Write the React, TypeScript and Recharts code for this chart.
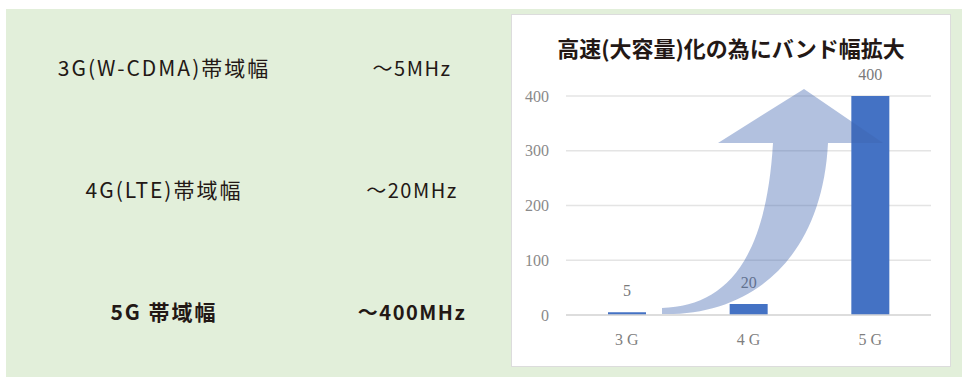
import React from "react";
import { BarChart, Bar, XAxis, YAxis, CartesianGrid, LabelList } from "recharts";

const categories = ["3 G", "4 G", "5 G"];
const bandwidthMHz = [5, 20, 400];
const yTicks = [0, 100, 200, 300, 400];

const rowLabels = ["3G(W-CDMA)帯域幅", "4G(LTE)帯域幅", "5G 帯域幅"];
const rowValues = ["～5MHz", "～20MHz", "～400MHz"];
const rowBold = [false, false, true];

const chartTitle = "高速(大容量)化の為にバンド幅拡大";

const data = categories.map((c, i) => ({ name: c, value: bandwidthMHz[i] }));

const rowY = [68, 190, 312];

export default function App() {
  const sans = '"Noto Sans CJK JP", "Noto Sans", sans-serif';
  const serif = '"Liberation Serif", "DejaVu Serif", serif';
  return (
    <div style={{ position: "absolute", left: 0, top: 0, width: 962, height: 377, background: "#fff", overflow: "hidden" }}>
      <div style={{ position: "absolute", left: 6, top: 9, width: 956, height: 368, background: "#E2EFDA" }} />
      {rowLabels.map((t, i) => (
        <div
          key={"l" + i}
          style={{
            position: "absolute",
            left: 164,
            top: rowY[i] - 1,
            transform: "translate(-50%, -50%)",
            whiteSpace: "nowrap",
            fontFamily: sans,
            fontSize: 21,
            fontWeight: rowBold[i] ? 700 : 400,
            letterSpacing: 2,
            color: "#231815",
          }}
        >
          {t}
        </div>
      ))}
      {rowValues.map((t, i) => (
        <div
          key={"v" + i}
          style={{
            position: "absolute",
            left: 412,
            top: rowY[i] - 1,
            transform: "translate(-50%, -50%)",
            whiteSpace: "nowrap",
            fontFamily: sans,
            fontSize: 20,
            fontWeight: rowBold[i] ? 700 : 400,
            letterSpacing: 1.5,
            color: "#231815",
          }}
        >
          {t}
        </div>
      ))}
      <div style={{ position: "absolute", left: 512, top: 15, width: 438, height: 351, background: "#fff", outline: "1px solid #dcdcdc" }}>
        <div
          style={{
            position: "absolute",
            left: 0,
            width: 438,
            top: 32,
            transform: "translateY(-50%)",
            textAlign: "center",
            fontFamily: sans,
            fontSize: 22,
            fontWeight: 700,
            color: "#231815",
            whiteSpace: "nowrap",
          }}
        >
          {chartTitle}
        </div>
        <BarChart width={438} height={351} data={data} margin={{ top: 81, right: 19, bottom: 21, left: 0 }}>
          <CartesianGrid vertical={false} stroke="#e4e4e4" strokeWidth={1.5} />
          <XAxis
            dataKey="name"
            height={30}
            axisLine={{ stroke: "#d9d9d9", strokeWidth: 1.5 }}
            tickLine={false}
            tickMargin={13}
            tick={{ fill: "#7f7f7f", fontFamily: serif, fontSize: 16 }}
          />
          <YAxis
            width={54}
            domain={[0, 400]}
            ticks={yTicks}
            axisLine={false}
            tickLine={false}
            tickMargin={11}
            tick={{ fill: "#8a8a8a", fontFamily: serif, fontSize: 16 }}
          />
          <Bar dataKey="value" fill="#4472C4" barSize={38} isAnimationActive={false}>
            <LabelList dataKey="value" position="top" offset={16} fill="#7a7a7a" fontFamily={serif} fontSize={16} />
          </Bar>
        </BarChart>
      </div>
      <svg width={962} height={377} style={{ position: "absolute", left: 0, top: 0, pointerEvents: "none" }}>
        <path
          d="M 662 314 L 662 308 C 725 306, 766 262, 773 143 L 718 143 L 804 89 L 883 143 L 828 143 C 822 260, 750 316, 662 314 Z"
          fill="#3F64B0"
          fillOpacity={0.4}
        />
      </svg>
    </div>
  );
}
